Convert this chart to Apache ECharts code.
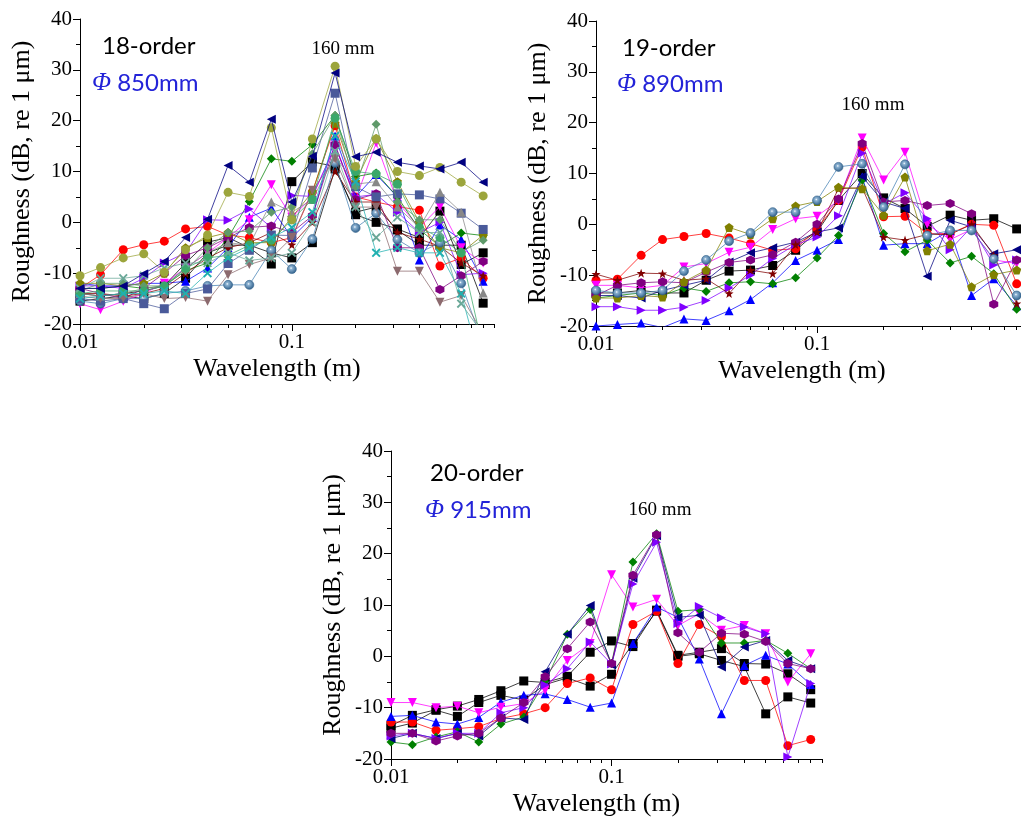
<!DOCTYPE html>
<html><head><meta charset="utf-8">
<script src="https://cdn.jsdelivr.net/npm/echarts@6/dist/echarts.min.js"></script>
<style>html,body{margin:0;padding:0;background:#fff}#c{width:1021px;height:820px}</style>
</head><body><div id="c"></div><script>
// ---------- data ----------
const wavelength = [0.01, 0.0125, 0.016, 0.02, 0.025, 0.0315, 0.04, 0.05, 0.063, 0.08, 0.1, 0.125, 0.16, 0.2, 0.25, 0.315, 0.4, 0.5, 0.63, 0.8];
const xRange = [0.01, 0.9];
const xMinorTicks = [0.02,0.03,0.04,0.05,0.06,0.07,0.08,0.09,0.2,0.3,0.4,0.5,0.6,0.7,0.8,0.9];
const yTickRange = [-20, 40, 10];
const panelTitles = ['18-order', '19-order', '20-order'];
const panelDiameters = ['850mm', '890mm', '915mm'];
const peakLabel = '160 mm';

// 18-order
const o18_black1 = [-14,-14.5,-14,-13.5,-12.5,-8,-3.9,-3,-5,-8.2,8.0,11.9,11,1.5,0,-1.3,-3,2.2,-8.3,-6];
const o18_black2 = [-15.5,-15,-14.5,-15,-14,-11,-6,-4.5,-4.5,-6,-7.0,-4,10.5,2,3,-1.5,-4.5,-4.5,-4.5,-15.9];
const o18_red = [-13,-10.3,-5.4,-4.4,-3.7,-1.3,-0.8,-2.5,-3,-4,-3,6,19,5,4,3.1,2.4,-8.6,-7,-11];
const o18_blue = [-12,-12.5,-12.5,-12,-12,-11.6,-9,-5,1,2.8,-3,1,17,5,9.4,5,-7.4,-0.5,-3.4,-11.6];
const o18_magenta = [-16,-17.2,-15.5,-14,-12,-9,-6,-3,0.5,7.4,1,5,15,4.5,15.6,4,-1,3.1,-5,-8];
const o18_green = [-13,-13,-12.5,-13,-12.5,-9.5,-8,-3,4.1,12.5,12,15.3,21,9,9.7,5,-1.4,-4.7,-2.1,-2.6];
const o18_navy = [-13,-13,-12.5,-10.1,-7.7,-3,0.6,11.2,7.9,20.3,4,13,29.4,12.9,13.8,11.8,11.1,10.5,11.8,7.9];
const o18_violet = [-12.5,-12.5,-13,-11,-8,-6,0.5,0.4,2.6,-1,5.3,5.1,15,5,5.5,2,-2,0,-10.3,-10];
const o18_purple = [-13,-14,-15,-13,-10,-6.5,-5,-3,-1,-0.7,-2,1.3,15.3,4.5,5.6,-5,-5,-13.2,-10.5,-7.7];
const o18_wine = [-14,-14,-14.5,-14,-13,-10,-7,-5,-4,-2,-4.4,0,10,4,4,-2,-3.3,-4.7,-8,-10.5];
const o18_olive = [-12,-12,-12.5,-12,-10,-5,-3,-2,-4,-4,1,6,19.5,8,16.5,8,0,-5,-6,-2.5];
const o18_yellowgreen = [-10.5,-8.9,-7,-6.2,-9.8,-5.4,-2.5,5.9,5.1,18.6,0.5,16.4,30.7,11,16.4,10,9.2,10.8,7.9,5.2];
const o18_steel = [-15.5,-16,-15,-15,-14,-13.5,-12.5,-12.3,-12.3,-5.5,-9.2,-3.3,11.7,-1.1,1.8,-3.4,-6,-4,-12,-24];
const o18_slate = [-15,-15.5,-15,-16,-17,-14,-13.1,-8.1,-5.5,-2.5,-2.6,10.7,25.4,7,5,5.6,5.4,4.6,1.8,-1.4];
const o18_gray = [-14,-14.5,-14,-13,-12.5,-9,-6,-4,-4.5,4,2,4.5,13,7.5,8,3,-1,5.9,2,-13.9];
const o18_rosy = [-14.5,-15,-15,-14,-15,-14.8,-15.5,-10.3,-8.3,-7,-3,6.3,12.5,3,3,-9.6,-9.6,-15.7,-14.4,-22];
const o18_seagreen = [-13.5,-12,-12,-12.5,-12.5,-9.5,-5,-2,-1.7,2,3,13.5,21,7,19.3,4,0.5,0.5,-5.8,-3.5];
const o18_medgreen = [-14,-13.5,-13.5,-13.5,-12.5,-9,-7,-6.5,-4.5,-3.5,0.5,4.5,20.5,10,9.5,7.5,-1,-3,-6,-25];
const o18_cyan = [-15,-14.5,-14,-14,-13.5,-14,-10,-7,-5,-3,-1,2,17,8,-6,-5,-6,-6,-14,-30];
const o18_teal = [-13,-11,-11,-10.5,-9,-8,-8,-6,-7.5,-7,-6,0,14,3,-3,1,-2,-2,-16,-22];

// 19-order
const o19_black = [-13.5,-13.5,-13,-13.5,-13.5,-11,-9.2,-9,-8.1,-5.1,-1.5,4.7,10,5.2,3.1,-0.4,1.8,0.8,1.1,-0.9];
const o19_red = [-11,-10.8,-6.1,-3.0,-2.4,-1.8,-2.7,-3.8,-5.1,-4.8,-1,4.7,15.2,1.5,1.6,-1.8,-1.8,0,-0.2,-11.7];
const o19_blue = [-20,-19.7,-19.4,-20.3,-18.6,-18.9,-17,-14.8,-11.5,-7.1,-5.1,-3.0,9.3,-4.1,-3.8,-3.8,-1.2,-14.0,-10.7,-16];
const o19_magenta = [-12,-12,-12.5,-12,-8.4,-7.7,-5.5,-4.5,-1.0,1.1,1.6,4.7,17.0,8.7,14.2,0,-3,-1,-7,-7.7];
const o19_green = [-14.5,-14,-13.5,-14,-12.5,-13.2,-11.5,-11.3,-11.7,-10.5,-6.6,-2.2,8.7,-1.8,-5.4,-3.1,-7.6,-6.3,-9.7,-16.7];
const o19_navy = [-14,-14,-14.5,-13,-12,-11,-7.4,-5.6,-4.6,-3.5,-1.5,-0.7,9.4,4.4,3.1,-10.2,0.8,-0.5,-5.8,-5];
const o19_violet = [-16.2,-16.2,-16.9,-16.9,-16.3,-15,-12.5,-10,-6.7,-4,-2.5,1.7,14,4,6.2,1.1,-5,-0.5,-8,-7];
const o19_purple = [-14,-12,-11.5,-11.3,-11.5,-9.4,-7.5,-7,-6,-3.5,0,5,15.9,4.4,4.7,3.7,4.1,2.1,-15.7,-7];
const o19_wine = [-9.8,-11,-9.6,-9.7,-11,-10.7,-13.6,-9,-9.7,-4,-1.5,7,7.2,-2.5,-3.1,-2,-2,0,-6.1,-15.6];
const o19_olive = [-14.5,-14.5,-14,-14.3,-11.3,-9,-0.6,-2,1.1,3.6,4.5,7.3,7.0,1.8,9.3,-5.2,-3.9,-12.3,-9.9,-9];
const o19_steel = [-13,-13.5,-13.5,-13,-9.2,-7.0,-3.3,-1.7,2.4,2.4,4.7,11.3,11.9,3.4,11.8,-2.2,-1.2,-1.2,-6.8,-14];

// 20-order
const o20_black1 = [-13.5,-11.5,-10.4,-9.7,-8.4,-6.7,-4.8,-5.1,-3.9,0.8,3.0,1.9,9.0,0.2,0.8,1.5,-1.4,-1.5,-3.4,-6.5];
const o20_black2 = [-14,-13,-10.5,-11.7,-9,-7.6,-8.5,-5.5,-4.2,-5.8,-3.5,2.5,8.8,0.0,0.5,-0.8,-2.0,-11.2,-7.9,-9.1];
const o20_red = [-12.8,-12.8,-14.4,-14.1,-13.7,-12.1,-11.2,-10.0,-5.3,-4.2,-6.5,6.2,8.8,-1.4,6.2,3.8,-4.7,-4.7,-17.4,-16.2];
const o20_blue = [-11.7,-11.5,-12.8,-13.2,-11.9,-8.9,-7.6,-7.3,-8.4,-9.9,-9.1,2.5,9.6,7.6,-0.5,-11.2,-1.8,0.2,-1.5,-5.5];
const o20_magenta = [-9.0,-9.0,-10.0,-9.7,-11.0,-9.9,-9.2,-6.6,-0.8,2.5,15.9,9.6,11.1,6.0,8.3,5.1,6.0,4.4,-5.0,0.5];
const o20_green = [-16.7,-17.2,-15.7,-14.7,-16.7,-13.2,-11.8,-5.0,4.3,9.1,-1.4,18.4,23.9,8.8,9.1,2.6,2.6,3.1,0.6,-2.4];
const o20_navy = [-16,-15,-16,-15,-15.5,-12,-12.3,-3.0,4.3,9.9,-1.7,15.2,23.5,7.6,8.0,-2.1,1.8,3.1,-0.8,-2.4];
const o20_violet = [-15.5,-15,-16,-15,-15,-11,-10,-5.6,-2.4,2.8,-1.5,14.1,22.2,6.4,9.7,7.5,5.7,4.4,-19.6,-5.3];
const o20_purple = [-15,-15,-16.5,-15.5,-15,-12,-9,-4.0,1.5,6.7,-1.4,15.8,23.7,4.6,0.8,4.5,4.3,2.9,-1.4,-2.4];

// ---------- marker styles ----------
const UP='path://M0,-10L10,8L-10,8Z', DN='path://M0,10L10,-8L-10,-8Z', LF='path://M-10,0L8,-10L8,10Z', RT='path://M10,0L-8,-10L-8,10Z';
const DI='path://M0,-10L10,0L0,10L-10,0Z', HX='path://M0,-10L8.7,-5L8.7,5L0,10L-8.7,5L-8.7,-5Z';
const ST='path://M0,-10L2.35,-3.24L9.51,-3.09L3.8,1.24L5.88,8.09L0,4L-5.88,8.09L-3.8,1.24L-9.51,-3.09L-2.35,-3.24Z';
const PN='path://M0,-10L9.51,-3.09L5.88,8.09L-5.88,8.09L-9.51,-3.09Z';
const XC='path://M-10,-7L-7,-10L0,-3L7,-10L10,-7L3,0L10,7L7,10L0,3L-7,10L-10,7L-3,0Z';
const sphere = {type:'radial',x:0.42,y:0.4,r:0.6,colorStops:[{offset:0,color:'#ffffff'},{offset:0.22,color:'#8db3d3'},{offset:1,color:'#2f5f8a'}]};
const STY = {
  black:{c:'#000000',s:'rect'}, red:{c:'#ff0000',s:'circle'}, blue:{c:'#0000ff',s:UP}, magenta:{c:'#ff00ff',s:DN},
  green:{c:'#008000',s:DI}, navy:{c:'#000080',s:LF}, violet:{c:'#8000ff',s:RT}, purple:{c:'#800080',s:HX},
  wine:{c:'#800000',s:ST}, olive:{c:'#808000',s:PN}, steel:{c:'#4682b4',s:'circle',fill:sphere},
  yellowgreen:{c:'#9ca53c',s:'circle'}, slate:{c:'#4a5a9a',s:'rect'}, gray:{c:'#888888',s:UP},
  rosy:{c:'#8c6a6e',s:DN}, seagreen:{c:'#5f9a6a',s:DI}, medgreen:{c:'#3aa86a',s:'circle'},
  cyan:{c:'#20b0b0',s:XC}, teal:{c:'#6aa898',s:XC}
};

const panels = [
  [['black',o18_black1],['black',o18_black2],['red',o18_red],['blue',o18_blue],['magenta',o18_magenta],['green',o18_green],
   ['violet',o18_violet],['purple',o18_purple],['wine',o18_wine],['olive',o18_olive],['steel',o18_steel],['slate',o18_slate],
   ['gray',o18_gray],['rosy',o18_rosy],['seagreen',o18_seagreen],['medgreen',o18_medgreen],['cyan',o18_cyan],['teal',o18_teal],
   ['yellowgreen',o18_yellowgreen],['navy',o18_navy]],
  [['black',o19_black],['red',o19_red],['blue',o19_blue],['magenta',o19_magenta],['green',o19_green],['navy',o19_navy],
   ['violet',o19_violet],['purple',o19_purple],['wine',o19_wine],['olive',o19_olive],['steel',o19_steel]],
  [['black',o20_black1],['black',o20_black2],['red',o20_red],['blue',o20_blue],['magenta',o20_magenta],['green',o20_green],
   ['navy',o20_navy],['violet',o20_violet],['purple',o20_purple]]
];

const baseGrids = [
  {left:80, top:19, width:414, height:305, outerBoundsMode:'none', containLabel:false},
  {left:596, top:21, width:432, height:305, outerBoundsMode:'none', containLabel:false},
  {left:391, top:451, width:431, height:308, outerBoundsMode:'none', containLabel:false}
];
// overlay grids (same geometry) carry the minor x ticks
const grids = baseGrids.concat(baseGrids.map(g => Object.assign({}, g)));
const SERIF = '"Liberation Serif","Times New Roman",serif';
const N = baseGrids.length;

const xAxis = [], yAxis = [], series = [];
baseGrids.forEach((g, gi) => {
  xAxis.push({type:'log', logBase:10, gridIndex:gi, min:xRange[0], max:xRange[1], position:'bottom',
    name:'Wavelength (m)', nameLocation:'middle', nameGap:32,
    nameTextStyle:{fontFamily:SERIF, fontSize:26, color:'#000', padding:[0,20,0,0]},
    axisLine:{show:true, onZero:false, lineStyle:{color:'#000', width:1}},
    axisTick:{show:true, length:7, lineStyle:{color:'#000'}},
    axisLabel:{fontFamily:SERIF, fontSize:21, color:'#000', margin:8, showMaxLabel:false,
      formatter: v => String(+(+v).toPrecision(3))},
    splitLine:{show:false}, minorTick:{show:false}});
  yAxis.push({type:'value', gridIndex:gi, min:yTickRange[0], max:yTickRange[1], interval:yTickRange[2],
    name:'Roughness (dB, re 1 \u03bcm)', nameLocation:'middle', nameGap:45, nameRotate:90,
    nameTextStyle:{fontFamily:SERIF, fontSize:26, color:'#000'},
    axisLine:{show:true, onZero:false, lineStyle:{color:'#000', width:1}},
    axisTick:{show:true, length:7, lineStyle:{color:'#000'}},
    minorTick:{show:true, splitNumber:2, length:4, lineStyle:{color:'#000'}},
    axisLabel:{fontFamily:SERIF, fontSize:21, color:'#000', margin:8},
    splitLine:{show:false}, minorSplitLine:{show:false}});
  panels[gi].forEach(([key, vals], si) => {
    const st = STY[key];
    series.push({type:'line', xAxisIndex:gi, yAxisIndex:gi, clip:true, animation:false,
      data: wavelength.map((w, i) => [w, vals[i]]),
      symbol: st.s, symbolSize: 9, showAllSymbol:true,
      itemStyle:{color: st.fill || st.c, borderColor: st.fill ? '#2f5f8a' : st.c, borderWidth: st.fill ? 0.6 : 0},
      lineStyle:{color: st.c, width:0.75}, z: 2 + si});
  });
});
// tick-only overlay axes: linear axis in log10 space, same extent as the log axis
baseGrids.forEach((g, gi) => {
  xAxis.push({type:'value', gridIndex:N+gi, min:Math.log10(xRange[0]), max:Math.log10(xRange[1]), position:'bottom',
    axisLine:{show:false, onZero:false}, axisLabel:{show:false},
    axisTick:{show:true, length:4, lineStyle:{color:'#000'}, customValues:xMinorTicks.map(Math.log10)},
    splitLine:{show:false}});
  yAxis.push({type:'value', gridIndex:N+gi, min:yTickRange[0], max:yTickRange[1], show:false});
});

const lato = '"Lato","Noto Sans",sans-serif';
const txtPos = [
  {ord:[102,46], dia:[92,83], peak:[343,49]},
  {ord:[622,48], dia:[617,84], peak:[873,105]},
  {ord:[430,473], dia:[425,510], peak:[660,510]}
];
const graphic = [];
txtPos.forEach((p, i) => {
  graphic.push({type:'text', x:p.ord[0], y:p.ord[1], style:{text:panelTitles[i], fontFamily:lato, fontSize:24, fill:'#000', verticalAlign:'middle'}});
  graphic.push({type:'text', x:p.dia[0], y:p.dia[1], style:{text:'{phi|\u03a6} ' + panelDiameters[i], fontFamily:lato, fontSize:24, fill:'#2323d8', verticalAlign:'middle',
    rich:{phi:{fontFamily:SERIF, fontStyle:'italic', fontSize:25, fill:'#2323d8'}}}});
  graphic.push({type:'text', x:p.peak[0], y:p.peak[1], style:{text:peakLabel, fontFamily:SERIF, fontSize:19, fill:'#000', align:'center', verticalAlign:'middle'}});
});

const chart = echarts.init(document.getElementById('c'), null, {renderer:'canvas'});
chart.setOption({backgroundColor:'#fff', animation:false, grid:grids, xAxis, yAxis, series, graphic});
</script></body></html>
